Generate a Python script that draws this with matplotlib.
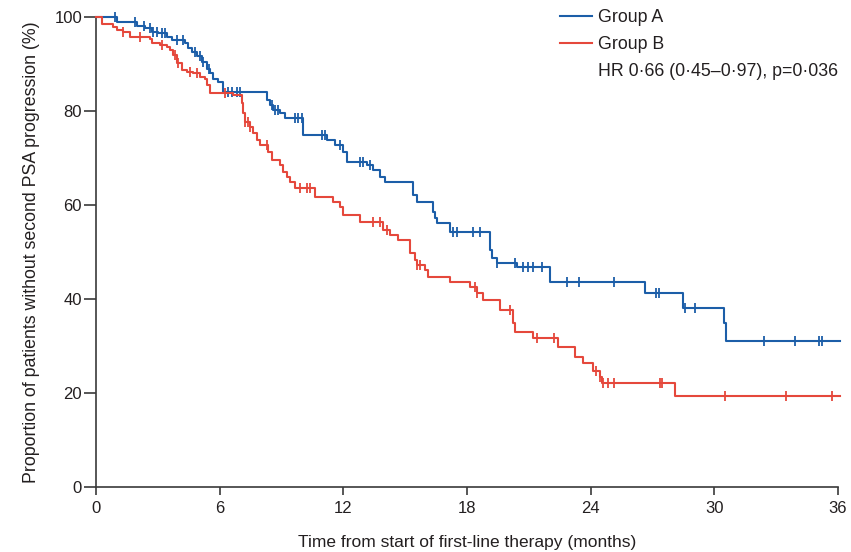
import matplotlib
matplotlib.use("Agg")
import matplotlib.pyplot as plt
from matplotlib.lines import Line2D
import numpy as np

# Kaplan-Meier estimates: event times (months) and survival (%) after each step
group_a_times = [0, 1.02, 1.99, 2.38, 2.72, 3.01, 3.44, 3.69, 4.32, 4.46, 4.66, 4.90,
                 5.14, 5.39, 5.53, 5.68, 5.92, 6.16, 8.30, 8.44, 8.59, 8.93, 9.17,
                 10.04, 11.21, 11.60, 11.98, 12.18, 13.15, 13.44, 13.78, 14.02,
                 15.38, 15.57, 16.35, 16.45, 16.55, 17.18, 19.12, 19.21, 19.46,
                 20.43, 22.03, 26.64, 28.48, 30.47, 30.57]
group_a_surv = [100, 99.0, 98.0, 97.6, 96.9, 96.5, 95.8, 95.1, 94.4, 93.3, 92.6, 91.6,
                90.4, 89.0, 88.0, 86.9, 86.2, 84.1, 82.3, 81.3, 80.2, 79.5, 78.5,
                74.9, 73.8, 72.8, 71.3, 69.1, 68.5, 67.4, 66.0, 65.0,
                62.1, 60.6, 58.5, 57.2, 56.2, 54.3, 50.4, 48.7, 47.6,
                46.8, 43.6, 41.3, 38.1, 35.0, 31.1]
group_a_censored = [0.92, 1.89, 2.35, 2.62, 2.77, 2.96, 3.20, 3.35, 3.93, 4.22, 4.80,
                    5.04, 5.19, 5.48, 6.40, 6.60, 6.84, 6.99, 8.54, 8.69, 8.83, 9.66,
                    9.80, 9.99, 10.97, 11.11, 11.84, 12.81, 12.95, 13.29, 17.32, 17.52,
                    18.29, 18.63, 19.46, 20.33, 20.72, 20.96, 21.20, 21.64, 22.85,
                    23.44, 25.13, 27.17, 27.32, 28.58, 29.06, 32.41, 33.92, 35.08, 35.23]

group_b_times = [0, 0.30, 0.82, 1.02, 1.31, 1.65, 2.62, 2.72, 3.11, 3.44, 3.59, 3.74,
                 3.93, 4.17, 4.42, 4.71, 5.05, 5.29, 5.39, 5.53, 6.65, 7.08, 7.13,
                 7.23, 7.47, 7.62, 7.81, 7.96, 8.35, 8.54, 8.93, 9.07, 9.27, 9.41,
                 9.66, 10.63, 11.50, 11.84, 11.98, 12.81, 13.93, 14.27, 14.65, 15.24,
                 15.48, 15.57, 15.96, 16.11, 17.18, 18.15, 18.49, 18.78, 19.60, 20.23,
                 20.33, 21.20, 22.42, 23.24, 23.63, 24.11, 24.45, 24.55, 28.09]
group_b_surv = [100, 98.6, 97.9, 97.2, 96.9, 95.8, 95.3, 94.5, 94.0, 93.6, 93.0, 91.9,
                90.2, 88.7, 88.4, 88.0, 87.3, 86.9, 85.5, 83.8, 83.4, 81.7, 79.6,
                77.7, 76.6, 75.3, 73.8, 72.8, 71.3, 69.6, 68.5, 67.0, 66.0, 64.9,
                63.6, 61.7, 60.6, 59.6, 57.9, 56.4, 54.7, 53.6, 52.5, 49.8,
                48.3, 47.2, 46.2, 44.7, 43.6, 42.6, 41.3, 39.8, 37.7, 35.0,
                33.0, 31.7, 29.8, 27.7, 26.4, 24.7, 23.4, 22.2, 19.4]
group_b_censored = [1.31, 2.13, 3.20, 3.83, 3.98, 4.56, 4.90, 6.26, 7.23, 7.38, 7.47,
                    8.30, 9.90, 10.24, 10.38, 13.44, 13.78, 14.12, 15.57, 15.72, 18.39,
                    18.49, 20.09, 21.40, 22.22, 24.26, 24.45, 24.60, 24.84, 25.13,
                    27.37, 27.46, 30.52, 33.48, 35.71]

x_ticks = [0, 6, 12, 18, 24, 30, 36]
y_ticks = [0, 20, 40, 60, 80, 100]
labels = ["Group A", "Group B"]
stat_text = "HR 0\u00b766 (0\u00b745\u20130\u00b797), p=0\u00b7036"

blue = "#1c5ea8"
red = "#e5483c"
text_col = "#231f20"

plt.rcParams["font.family"] = ["Liberation Sans", "DejaVu Sans"]

fig = plt.figure(figsize=(8.51, 5.52), dpi=100)
ax = fig.add_axes([96 / 851, 65 / 552, 742 / 851, 470 / 552])


def survival_at(times, surv, t):
    idx = np.searchsorted(times, t, side="right") - 1
    return np.asarray(surv)[idx]


x_end = 36.1
for times, surv, cens, col in [(group_a_times, group_a_surv, group_a_censored, blue),
                               (group_b_times, group_b_surv, group_b_censored, red)]:
    t = list(times) + [x_end]
    s = list(surv) + [surv[-1]]
    ax.step(t, s, where="post", color=col, lw=1.5, clip_on=False, zorder=3)
    ax.plot(cens, survival_at(times, surv, cens), ls="none", marker="|",
            ms=7, mew=1.3, color=col, clip_on=False, zorder=3)

ax.set_xlim(0, 36)
ax.set_ylim(0, 100)
ax.set_xticks(x_ticks)
ax.set_yticks(y_ticks)
for sp in ["top", "right"]:
    ax.spines[sp].set_visible(False)
for sp in ["left", "bottom"]:
    ax.spines[sp].set_color("#3a3a3a")
    ax.spines[sp].set_linewidth(1.2)
ax.tick_params(axis="both", direction="out", colors="#3a3a3a", labelcolor=text_col,
               labelsize=12, width=1.2)
ax.tick_params(axis="x", length=6, pad=4)
ax.tick_params(axis="y", length=9, pad=1)

ax.set_xlabel("Time from start of first-line therapy (months)", fontsize=12.5,
              color=text_col, labelpad=14)
ax.set_ylabel("Proportion of patients without second PSA progression (%)",
              fontsize=12.8, color=text_col, labelpad=10)

handles = [Line2D([], [], color=blue, lw=1.5),
           Line2D([], [], color=red, lw=1.5),
           Line2D([], [], color="none")]
leg = ax.legend(handles, labels + [stat_text], loc="upper left",
                bbox_to_anchor=(0.604, 1.05), frameon=False, fontsize=12.8,
                handlelength=1.8, handletextpad=0.35, labelspacing=0.55,
                labelcolor=text_col)

fig.savefig("out.png", dpi=100)
